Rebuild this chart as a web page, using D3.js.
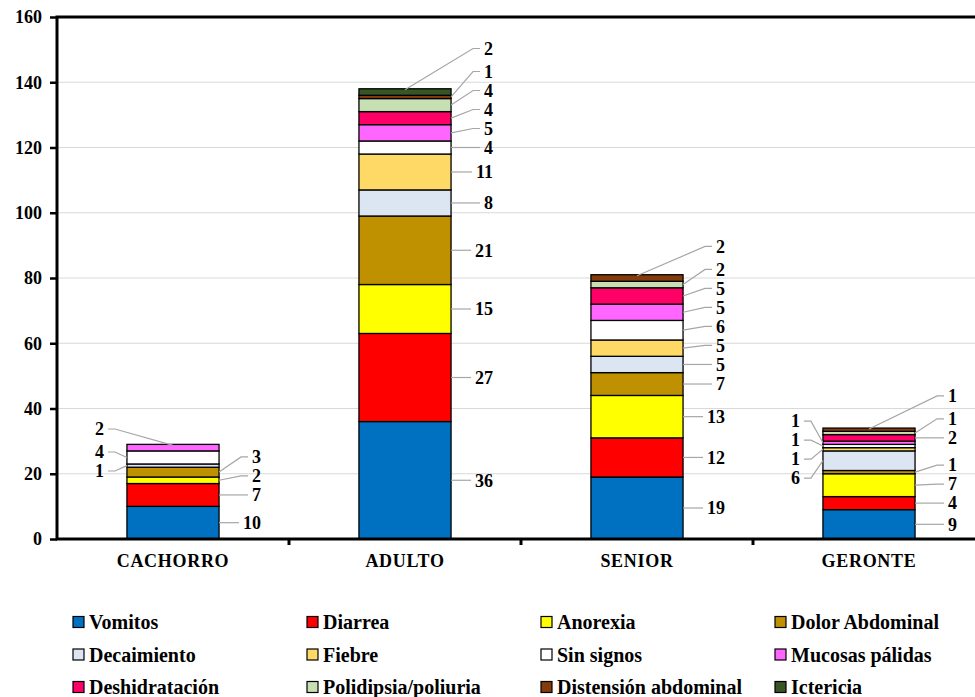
<!DOCTYPE html>
<html>
<head>
<meta charset="utf-8">
<script src="https://cdn.jsdelivr.net/npm/d3@7"></script>
<style>
  body { margin: 0; background: #fff; }
  svg text { font-family: "Liberation Serif", "Times New Roman", serif; font-weight: bold; fill: #000; }
</style>
</head>
<body>
<script>
const categories = ["CACHORRO", "ADULTO", "SENIOR", "GERONTE"];
const seriesNames = ["Vomitos", "Diarrea", "Anorexia", "Dolor Abdominal", "Decaimiento", "Fiebre",
  "Sin signos", "Mucosas pálidas", "Deshidratación", "Polidipsia/poliuria", "Distensión abdominal", "Ictericia"];

const vomitos      = [10, 36, 19, 9];
const diarrea      = [7, 27, 12, 4];
const anorexia     = [2, 15, 13, 7];
const dolor        = [3, 21, 7, 1];
const decaimiento  = [1, 8, 5, 6];
const fiebre       = [0, 11, 5, 1];
const sinSignos    = [4, 4, 6, 1];
const mucosas      = [2, 5, 5, 1];
const deshidrat    = [0, 4, 5, 2];
const polidipsia   = [0, 4, 2, 1];
const distension   = [0, 1, 2, 1];
const ictericia    = [0, 2, 0, 0];
const yTicks = [0, 20, 40, 60, 80, 100, 120, 140, 160];

// labels that sit on the left side of their bar
const leftLabels = {
  CACHORRO: ["Decaimiento", "Sin signos", "Mucosas pálidas"],
  GERONTE: ["Decaimiento", "Fiebre", "Sin signos", "Mucosas pálidas"]
};

const seriesValues = [vomitos, diarrea, anorexia, dolor, decaimiento, fiebre,
  sinSignos, mucosas, deshidrat, polidipsia, distension, ictericia];
const colors = ["#0070C0", "#FF0000", "#FFFF00", "#BF9000", "#DCE6F2", "#FFD966",
  "#FFFFFF", "#FF66FF", "#FF0066", "#C6E0B4", "#843C0C", "#375623"];

const width = 975, height = 697;
const svg = d3.select("body").append("svg").attr("width", width).attr("height", height);

const rows = categories.map((c, i) => {
  const r = { cat: c };
  seriesNames.forEach((s, k) => r[s] = seriesValues[k][i]);
  return r;
});
const stacked = d3.stack().keys(seriesNames)(rows);

const x = d3.scaleBand().domain(categories).range([57, 985]).paddingInner(0.603).paddingOuter(0.3015);
const y = d3.scaleLinear().domain([0, 160]).range([539, 17]);

// gridlines
svg.append("g").selectAll("line").data(yTicks.filter(d => d > 0 && d < 160)).join("line")
  .attr("x1", 57).attr("x2", 985)
  .attr("y1", d => y(d)).attr("y2", d => y(d))
  .attr("stroke", "#D9D9D9").attr("stroke-width", 1);

// bars
svg.append("g").selectAll("g").data(stacked).join("g")
  .attr("fill", (d, k) => colors[k])
  .selectAll("rect").data(d => d.filter(p => p[1] - p[0] > 0)).join("rect")
  .attr("x", d => x(d.data.cat))
  .attr("width", x.bandwidth())
  .attr("y", d => y(d[1]))
  .attr("height", d => y(d[0]) - y(d[1]))
  .attr("stroke", "#000").attr("stroke-width", 1.3);

// frame
svg.append("rect").attr("x", 57).attr("y", 17).attr("width", 928).attr("height", 522)
  .attr("fill", "none").attr("stroke", "#000").attr("stroke-width", 3);

// y axis
const axisy = d3.axisLeft(y).tickValues(yTicks).tickSize(7).tickPadding(8);
const gy = svg.append("g").attr("transform", "translate(57,0)").call(axisy);
gy.select(".domain").remove();
gy.selectAll("line").attr("stroke", "#000").attr("stroke-width", 2.5);
gy.selectAll("text").style("font-size", "18px").attr("fill", "#000");

// x axis labels + boundary ticks
const axisx = d3.axisBottom(x).tickSize(0).tickPadding(15);
const gx = svg.append("g").attr("transform", "translate(0,539)").call(axisx);
gx.select(".domain").remove();
gx.selectAll("text").style("font-size", "18px").style("letter-spacing", "0.7px").attr("fill", "#000");
const half = (x.step() - x.bandwidth()) / 2;
svg.append("g").selectAll("line").data(categories.slice(1)).join("line")
  .attr("x1", d => x(d) - half).attr("x2", d => x(d) - half)
  .attr("y1", 539).attr("y2", 545)
  .attr("stroke", "#000").attr("stroke-width", 3);

// data labels with leader lines
const gap = 19, topGap = 23;
const leaderG = svg.append("g");
const labelG = svg.append("g");

categories.forEach((cat, i) => {
  const segs = [];
  stacked.forEach((s, k) => {
    const p = s[i];
    if (p[1] - p[0] > 0) segs.push({ name: seriesNames[k], value: p[1] - p[0], y0: p[0], y1: p[1] });
  });
  segs.forEach((d, j) => {
    d.top = j === segs.length - 1;
    d.left = (leftLabels[cat] || []).includes(d.name);
    d.want = y((d.y0 + d.y1) / 2);
  });
  const xl = x(cat), xr = x(cat) + x.bandwidth(), xc = x(cat) + x.bandwidth() / 2;

  // right side: push labels upward
  const right = segs.filter(d => !d.left);
  right.forEach((d, j) => {
    d.ly = j === 0 ? d.want : Math.min(d.want, right[j - 1].ly - (d.top ? topGap : gap));
  });

  // left side: group overlapping labels and centre each group
  const left = segs.filter(d => d.left);
  let blocks = [];
  left.forEach(d => {
    blocks.push({ items: [d] });
    while (blocks.length > 1) {
      const b = blocks[blocks.length - 1], a = blocks[blocks.length - 2];
      place(a); place(b);
      const lowTop = a.items[a.items.length - 1], upBot = b.items[0];
      if (upBot.ly > lowTop.ly - (upBot.top ? topGap : gap)) {
        blocks.splice(blocks.length - 2, 2, { items: a.items.concat(b.items) });
      } else break;
    }
  });
  blocks.forEach(place);
  function place(b) {
    let off = 0;
    const offs = b.items.map((d, j) => { if (j > 0) off -= (d.top ? topGap : gap); return off; });
    // the top label hangs off the bar top, so centre the group on the others
    let idx = b.items.map((d, j) => j).filter(j => !b.items[j].top);
    if (!idx.length) idx = [0];
    const shift = d3.mean(idx, j => b.items[j].want - offs[j]);
    b.items.forEach((d, j) => d.ly = shift + offs[j]);
  }

  segs.forEach(d => {
    const t = labelG.append("text")
      .attr("x", d.left ? xl - 23 : xr + 42)
      .attr("y", d.ly).attr("dy", "0.35em")
      .attr("text-anchor", "end")
      .style("font-size", "18px")
      .text(d.value);
    const bb = t.node().getBBox();
    const anchor = d.top ? [xc, y(d.y1) + 1] : [d.left ? xl : xr, d.want];
    const end = d.left ? bb.x + bb.width + 4 : bb.x - 4;
    const stub = d.left ? end + 7 : end - 7;
    leaderG.append("polyline")
      .attr("points", [anchor, [stub, d.ly], [end, d.ly]].map(p => p.join(",")).join(" "))
      .attr("fill", "none").attr("stroke", "#A6A6A6").attr("stroke-width", 1.2);
  });
});

// legend
const legend = svg.append("g");
seriesNames.forEach((s, k) => {
  const col = k % 4, row = Math.floor(k / 4);
  const lx = 73 + col * 234, ly = 622 + row * 32.5;
  legend.append("rect").attr("x", lx).attr("y", ly - 5.5).attr("width", 11).attr("height", 11)
    .attr("fill", colors[k]).attr("stroke", "#000").attr("stroke-width", 1.2);
  legend.append("text").attr("x", lx + 16).attr("y", ly).attr("dy", "0.35em")
    .style("font-size", "20px").text(s);
});
</script>
</body>
</html>
